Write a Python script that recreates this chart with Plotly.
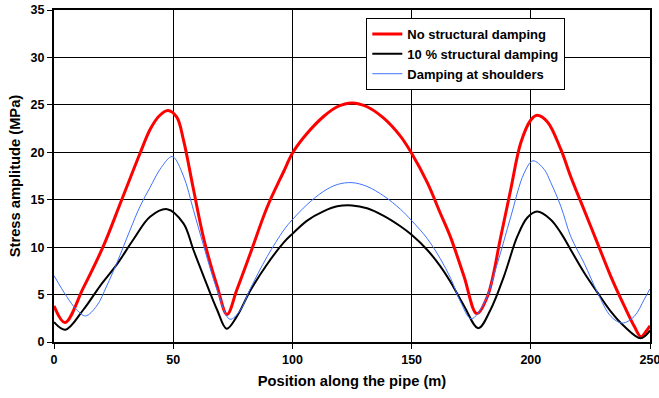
import plotly.graph_objects as go

# --- data ---
red_x = [0, 4.6, 12.3, 20.7, 28.4, 36.1, 40.3, 44, 47.8, 51.5, 54.3, 58.5, 62.8, 68.4, 72.6, 76.7, 82.3,
         89.4, 96.4, 100, 106.2, 113.2, 118.8, 125, 131.3, 138.3, 145.3, 150, 156.6, 162, 166.4, 172,
         177.3, 181.8, 187.4, 191.6, 195.8, 200, 202.6, 207, 212.6, 216.8, 222.4, 228, 233.6, 239.2,
         243.4, 246.2, 248.3, 250]
red_y = [3.8, 2.05, 5.7, 10.1, 15.0, 19.9, 22.4, 23.8, 24.4, 23.7, 21.3, 16.1, 10.9, 5.9, 2.9, 5.5, 9.3,
         14.2, 18.0, 19.9, 22.0, 23.8, 24.8, 25.2, 24.8, 23.6, 21.7, 19.9, 16.8, 13.6, 11.0, 6.9,
         3.0, 4.8, 11.1, 16.1, 21.0, 23.4, 23.9, 23.2, 20.3, 17.4, 13.9, 10.4, 6.9, 3.8,
         1.65, 0.55, 1.1, 1.7]

black_x = [0, 4.8, 12.3, 19.3, 26.3, 33.3, 40.3, 47.5, 54.3, 58.5, 62.8, 68.4, 72.4, 76.7, 82.3, 89.4,
           96.4, 100, 106.2, 113.2, 118.8, 125, 131.3, 138.3, 145.3, 150, 156.6, 162, 166.4, 172, 178,
           183.1, 188.7, 194.3, 198.5, 202.6, 208.4, 212.6, 216.8, 222.4, 228, 233.6, 239.2, 246.1, 250]
black_y = [2.1, 1.3, 3.4, 5.9, 8.15, 10.8, 13.2, 14.0, 12.5, 9.7, 6.9, 3.4, 1.4, 2.7, 5.4, 8.2,
           10.5, 11.4, 12.8, 13.8, 14.3, 14.4, 14.1, 13.3, 12.2, 11.3, 9.7, 8.0, 6.3, 3.8, 1.45,
           3.4, 6.9, 11.1, 13.1, 13.75, 12.9, 11.5, 9.7, 7.3, 5.2, 3.2, 1.65, 0.4, 1.2]

blue_x = [0, 5.3, 9.5, 13.2, 17.9, 22.1, 26.3, 31.9, 36.1, 40.3, 45, 49.6, 54.3, 58.5, 62.8, 68.4, 73.8,
          78, 82.3, 89.4, 96.4, 100, 106.2, 113.2, 118.8, 125, 131.3, 138.3, 145.3, 150, 156.6, 162,
          166.4, 170.6, 175, 180.4, 186, 191.6, 197.2, 200.9, 205.6, 208.4, 212.6, 216.8, 222.4, 228,
          233.6, 238.4, 243.4, 247.6, 250]
blue_y = [7.0, 4.8, 3.4, 2.75, 3.8, 5.9, 8.3, 11.8, 14.3, 16.3, 18.4, 19.55, 17.5, 13.9, 10.1, 5.5, 2.4,
          3.3, 5.6, 9.0, 11.8, 12.9, 14.5, 15.9, 16.6, 16.8, 16.4, 15.4, 14.0, 12.8, 10.9, 8.8,
          6.7, 4.2, 2.45, 4.1, 8.3, 13.2, 17.8, 19.1, 18.2, 16.8, 14.3, 11.1, 8.3, 5.2,
          2.7, 2.0, 2.7, 4.5, 5.6]

series_names = ["No structural damping", "10 % structural damping", "Damping at shoulders"]
x_ticks = [0, 50, 100, 150, 200, 250]
y_ticks = [0, 5, 10, 15, 20, 25, 30, 35]

FONT = "Liberation Sans, Arial, sans-serif"
SMOOTH = 1.0

fig = go.Figure()
fig.add_trace(go.Scatter(x=red_x, y=red_y, mode="lines", name=series_names[0],
                         line=dict(color="#FF0000", width=3, shape="spline", smoothing=SMOOTH)))
fig.add_trace(go.Scatter(x=black_x, y=black_y, mode="lines", name=series_names[1],
                         line=dict(color="#000000", width=2, shape="spline", smoothing=SMOOTH)))
fig.add_trace(go.Scatter(x=blue_x, y=blue_y, mode="lines", name=series_names[2],
                         line=dict(color="#3F73FF", width=1, shape="spline", smoothing=SMOOTH)))

fig.update_layout(
    width=659, height=398,
    margin=dict(l=54, r=9, t=10, b=56),
    paper_bgcolor="white", plot_bgcolor="white",
    font=dict(family=FONT, size=12, color="black"),
    legend=dict(x=0.524, y=0.976, xanchor="left", yanchor="top",
                bgcolor="white", bordercolor="black", borderwidth=1,
                font=dict(family=FONT, size=13, color="black", weight="bold"),
                tracegroupgap=0, itemwidth=30),
    showlegend=True,
)
fig.update_xaxes(
    range=[0, 250], tickvals=x_ticks, ticktext=[str(v) for v in x_ticks],
    automargin=False, ticklabeloverflow="allow",
    showgrid=True, gridcolor="black", gridwidth=1, zeroline=False,
    showline=True, linecolor="black", linewidth=2, mirror=True,
    ticks="outside", ticklen=5, tickcolor="black", tickwidth=1,
    tickfont=dict(family=FONT, size=12.5, weight="bold"),
    title=dict(text="Position along the pipe (m)", standoff=10,
               font=dict(family=FONT, size=14.7, weight="bold")),
)
fig.update_yaxes(
    range=[0, 35], tickvals=y_ticks, ticktext=[str(v) for v in y_ticks],
    automargin=False, ticklabeloverflow="allow",
    showgrid=True, gridcolor="black", gridwidth=1, zeroline=False,
    showline=True, linecolor="black", linewidth=2, mirror=True,
    ticks="outside", ticklen=5, tickcolor="black", tickwidth=1,
    tickfont=dict(family=FONT, size=12.5, weight="bold"),
    title=dict(text="Stress amplitude (MPa)", standoff=6,
               font=dict(family=FONT, size=14.7, weight="bold")),
)

fig.write_html("out.html")
